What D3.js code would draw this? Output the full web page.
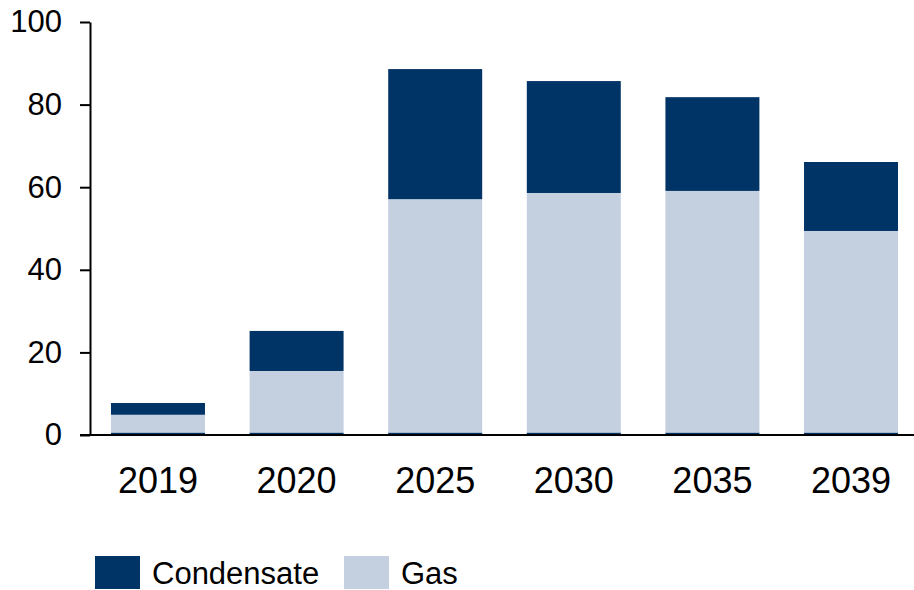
<!DOCTYPE html>
<html>
<head>
<meta charset="utf-8">
<script src="https://cdn.jsdelivr.net/npm/d3@7"></script>
<style>
  html, body { margin: 0; padding: 0; background: #fff; }
  svg text { font-family: "Liberation Sans", Arial, sans-serif; fill: #000; }
</style>
</head>
<body>
<svg id="chart" width="914" height="590"></svg>
<script>
// Production by year, stacked: thin base layer, gas, condensate
const years = ["2019", "2020", "2025", "2030", "2035", "2039"];
const base = [0.6, 0.6, 0.6, 0.6, 0.6, 0.6];
const gas = [4.3, 14.9, 56.5, 58.0, 58.5, 48.8];
const condensate = [2.85, 9.7, 31.5, 27.1, 22.7, 16.7];
const yTicks = [0, 20, 40, 60, 80, 100];

const colors = { base: "#003466", gas: "#c4cfe0", condensate: "#003466" };

const rows = years.map((y, i) => ({ year: y, base: base[i], gas: gas[i], condensate: condensate[i] }));
const keys = ["base", "gas", "condensate"];
const series = d3.stack().keys(keys)(rows);

const svg = d3.select("#chart");

const x = d3.scaleBand()
  .domain(years)
  .range([90, 919])
  .paddingInner(0.322)
  .paddingOuter(0.1515);

const y = d3.scaleLinear().domain([0, 100]).range([435, 22]);

// Bars
svg.append("g")
  .selectAll("g")
  .data(series)
  .join("g")
  .attr("fill", d => colors[d.key])
  .selectAll("rect")
  .data(d => d)
  .join("rect")
  .attr("x", d => x(d.data.year))
  .attr("width", x.bandwidth())
  .attr("y", d => y(d[1]))
  .attr("height", d => y(d[0]) - y(d[1]));

// Y axis
const yAxis = svg.append("g")
  .attr("transform", "translate(90,0)")
  .call(d3.axisLeft(y).tickValues(yTicks).tickSize(10).tickSizeOuter(0).tickPadding(18));
yAxis.select(".domain").attr("stroke", "#000").attr("stroke-width", 2);
yAxis.selectAll(".tick line").attr("stroke", "#000").attr("stroke-width", 2);
yAxis.selectAll(".tick text")
  .attr("font-size", 31)
  .attr("font-family", "Liberation Sans, Arial, sans-serif")
  .attr("fill", "#000");

// X axis baseline
svg.append("line")
  .attr("x1", 80).attr("x2", 914)
  .attr("y1", y(0)).attr("y2", y(0))
  .attr("stroke", "#000").attr("stroke-width", 2);

// X labels
const xAxis = svg.append("g")
  .attr("transform", `translate(0,${y(0)})`)
  .call(d3.axisBottom(x).tickSize(0).tickPadding(32));
xAxis.select(".domain").remove();
xAxis.selectAll(".tick text")
  .attr("font-size", 36)
  .attr("font-family", "Liberation Sans, Arial, sans-serif")
  .attr("fill", "#000");

// Legend
const legendItems = [
  { label: "Condensate", color: colors.condensate, x: 95 },
  { label: "Gas", color: colors.gas, x: 344 }
];
const legend = svg.append("g");
legendItems.forEach(item => {
  legend.append("rect")
    .attr("x", item.x).attr("y", 556)
    .attr("width", 45).attr("height", 33)
    .attr("fill", item.color);
  legend.append("text")
    .attr("x", item.x + 57).attr("y", 584)
    .attr("font-size", 31)
    .text(item.label);
});
</script>
</body>
</html>
